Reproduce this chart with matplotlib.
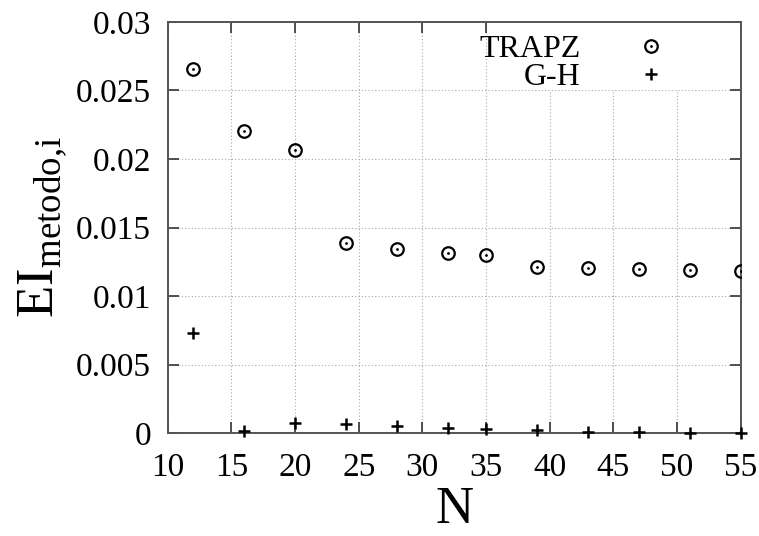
import matplotlib
matplotlib.use('Agg')
from matplotlib import pyplot as plt
from matplotlib.patches import Rectangle

N = [12, 16, 20, 24, 28, 32, 35, 39, 43, 47, 51, 55]
trapz = [0.02654, 0.02208, 0.02069, 0.01387, 0.01346, 0.01314, 0.01301,
         0.01211, 0.01203, 0.01199, 0.01187, 0.01185]
gh = [0.00731, 0.00015, 0.00073, 0.00063, 0.00049, 0.00036, 0.00027,
      0.00019, 0.00010, 0.00007, 0.00003, 0.00001]

plt.rcParams['font.family'] = 'Liberation Serif'
plt.rcParams['mathtext.fontset'] = 'custom'
plt.rcParams['mathtext.rm'] = 'Liberation Serif'

fig = plt.figure(dpi=100, figsize=(7.59, 5.36))
ax = fig.add_axes([0.221, 0.192, 0.755, 0.767])

c1, = ax.plot(N, trapz, 'o', mfc='none', mec='black', ms=9, mew=1.6, zorder=3)
c2, = ax.plot(N, trapz, '.', color='black', ms=2, zorder=4)
p1, = ax.plot(N, gh, '+', color='black', ms=9, mew=1.8, zorder=3, clip_on=False)

# white box behind the key, hides the grid like gnuplot does
ax.add_patch(Rectangle((0.565, 0.835), 0.398, 0.165, transform=ax.transAxes,
                       facecolor='white', edgecolor='none', zorder=2))

leg = ax.legend([(c1, c2), p1], ['TRAPZ', 'G-H'], loc='upper right',
                bbox_to_anchor=(0.876, 0.968),
                markerfirst=False, fontsize=23, frameon=False,
                borderpad=0.0, handlelength=1.2, handletextpad=1.6,
                labelspacing=-0.06, borderaxespad=0.0)
leg.set_zorder(5)
for t in leg.get_texts():
    t.set_ha('right')

ax.set_xlim(10, 55)
ax.set_ylim(0, 0.03)
ax.set_xticks(range(10, 56, 5))
ax.set_yticks([0, 0.005, 0.01, 0.015, 0.02, 0.025, 0.03])
ax.set_yticklabels(['0', '0.005', '0.01', '0.015', '0.02', '0.025', '0.03'])
ax.grid(True, color='#a8a8a8', linestyle=(0, (1, 2)), linewidth=0.8)
ax.tick_params(axis='both', which='major', direction='in', top=True,
               right=True, labelsize=24, length=8, width=1.2,
               color='#333333')
ax.tick_params(axis='x', pad=14)
ax.tick_params(axis='y', pad=12)
for s in ax.spines.values():
    s.set_color('#555555')
    s.set_linewidth(1.4)

ax.set_xlabel('N', fontsize=38, labelpad=2)
ax.set_ylabel(r'EI$_{\mathrm{metodo{,}i}}$', fontsize=38, labelpad=4)

fig.savefig('out.png', dpi=100)
